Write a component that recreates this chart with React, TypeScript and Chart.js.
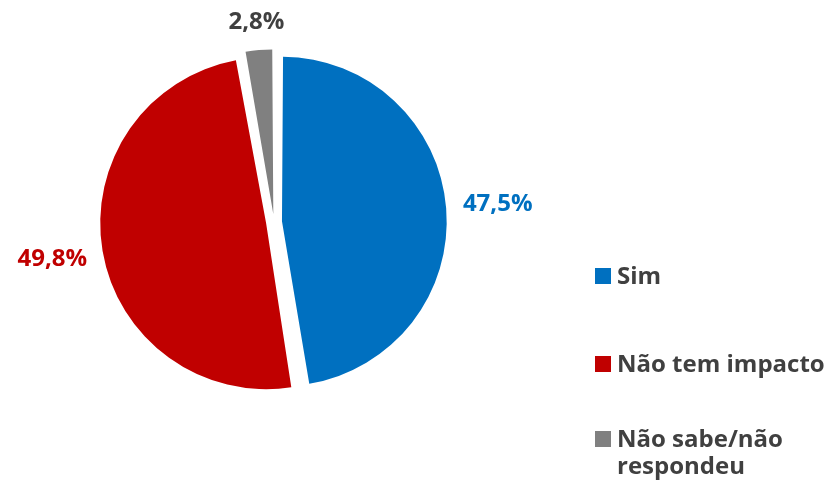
import React, { useEffect, useRef } from "react";
import { Chart, registerables } from "chart.js";

Chart.register(...registerables);

const categories = ["Sim", "Não tem impacto", "Não sabe/não respondeu"];
const legendLines = [["Sim"], ["Não tem impacto"], ["Não sabe/não", "respondeu"]];
const values = [47.5, 49.8, 2.8];
const valueLabels = ["47,5%", "49,8%", "2,8%"];
const fillColors = ["#0070C0", "#C00000", "#808080"];
const labelColors = ["#0070C0", "#C00000", "#404040"];

const FONT = "'Open Sans', Lato, sans-serif";

const outLabelPlugin = {
  id: "outLabels",
  afterDatasetsDraw(chart: any) {
    const ctx = chart.ctx;
    const meta = chart.getDatasetMeta(0);
    ctx.save();
    ctx.font = `bold 24px ${FONT}`;
    ctx.textAlign = "center";
    ctx.textBaseline = "middle";
    meta.data.forEach((arc: any, i: number) => {
      const p = arc.getProps(["x", "y", "startAngle", "endAngle", "outerRadius"], true);
      const mid = (p.startAngle + p.endAngle) / 2;
      const w = ctx.measureText(valueLabels[i]).width;
      const h = 18;
      const off = (arc.options.offset || 0) / 4;
      const dist =
        p.outerRadius + 2 * off + 15 + (Math.abs(Math.cos(mid)) * w) / 2 + (Math.abs(Math.sin(mid)) * h) / 2;
      const x = p.x + Math.cos(mid) * dist;
      const y = p.y + Math.sin(mid) * dist;
      ctx.fillStyle = labelColors[i];
      ctx.fillText(valueLabels[i], x, y);
    });
    ctx.restore();
  },
};

export default function App() {
  const canvasRef = useRef<HTMLCanvasElement | null>(null);

  useEffect(() => {
    document.body.style.margin = "0";
    const canvas = canvasRef.current;
    if (!canvas) return;
    const chart = new Chart(canvas, {
      type: "pie",
      data: {
        labels: categories,
        datasets: [
          {
            data: values,
            backgroundColor: fillColors,
            borderWidth: 0,
            offset: 32,
            hoverOffset: 32,
          },
        ],
      },
      options: {
        responsive: false,
        animation: false,
        radius: 158,
        layout: { padding: { left: 74, right: 351, top: 22, bottom: 61 } },
        plugins: {
          legend: { display: false },
          tooltip: { enabled: false },
        },
        events: [],
      },
      plugins: [outLabelPlugin],
    });
    return () => chart.destroy();
  }, []);

  const rowTops = [261, 349, 424];

  return (
    <div style={{ position: "relative", width: 825, height: 483, background: "#fff", overflow: "hidden" }}>
      <canvas ref={canvasRef} width={825} height={483} style={{ position: "absolute", left: 0, top: 0, width: 825, height: 483 }} />
      {legendLines.map((lines, i) => (
        <div key={i} style={{ position: "absolute", left: 595, top: rowTops[i] }}>
          <div
            style={{
              position: "absolute",
              left: 0,
              top: 7,
              width: 16,
              height: 16,
              background: fillColors[i],
            }}
          />
          <div
            style={{
              position: "absolute",
              left: 22,
              top: 0,
              font: `bold 24px ${FONT}`,
              lineHeight: "27px",
              color: "#404040",
              whiteSpace: "nowrap",
            }}
          >
            {lines.map((l, j) => (
              <div key={j}>{l}</div>
            ))}
          </div>
        </div>
      ))}
    </div>
  );
}
